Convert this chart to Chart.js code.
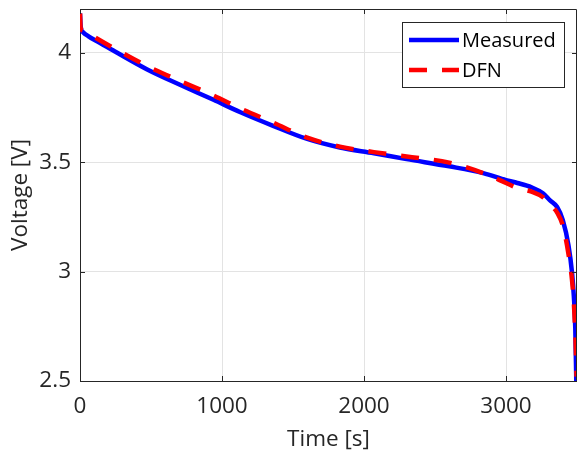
<!DOCTYPE html>
<html>
<head>
<meta charset="utf-8">
<script src="https://cdn.jsdelivr.net/npm/chart.js@4/dist/chart.umd.min.js"></script>
<style>
  html, body { margin: 0; padding: 0; background: #fff; }
  #wrap { width: 577px; height: 458px; }
</style>
</head>
<body>
<div id="wrap"><canvas id="voltChart" width="577" height="458"></canvas></div>
<script>
// measured discharge curve
var timeMeasured = [0, 5, 20, 60, 120, 240, 470, 700, 940, 1130, 1360, 1600, 1830, 2070, 2300, 2600, 2840, 3000, 3080, 3180, 3260, 3310, 3360, 3400, 3440, 3465, 3478, 3488, 3495];
var voltMeasured = [4.18, 4.12, 4.095, 4.075, 4.052, 4.008, 3.925, 3.855, 3.785, 3.728, 3.666, 3.606, 3.567, 3.541, 3.514, 3.481, 3.450, 3.418, 3.405, 3.385, 3.358, 3.325, 3.295, 3.235, 3.12, 2.995, 2.885, 2.74, 2.5];

// DFN model
var timeDFN = [0, 5, 30, 80, 240, 470, 700, 940, 1130, 1360, 1600, 1830, 2070, 2300, 2600, 2840, 3000, 3080, 3180, 3260, 3320, 3360, 3400, 3440, 3465, 3480, 3490, 3497];
var voltDFN = [4.18, 4.11, 4.10, 4.08, 4.02, 3.94, 3.872, 3.805, 3.745, 3.681, 3.612, 3.571, 3.546, 3.526, 3.498, 3.450, 3.405, 3.382, 3.365, 3.34, 3.30, 3.27, 3.21, 3.08, 2.96, 2.83, 2.68, 2.52];

var xTicks = [0, 1000, 2000, 3000];
var yTicks = [2.5, 3, 3.5, 4];

function pairs(xs, ys) {
  var out = [];
  for (var i = 0; i < xs.length; i++) out.push({x: xs[i], y: ys[i]});
  return out;
}

var axisColor = '#262626';
var FONT = "'Open Sans', 'Noto Sans', sans-serif";

// box around the plot + inward ticks (matlab style)
var boxPlugin = {
  id: 'box',
  afterDraw: function(chart) {
    var ctx = chart.ctx, a = chart.chartArea;
    var xs = chart.scales.x, ys = chart.scales.y;
    ctx.save();
    ctx.strokeStyle = axisColor;
    ctx.lineWidth = 1;
    ctx.beginPath();
    ctx.moveTo(a.left + 0.5, a.top + 0.5);
    ctx.lineTo(a.right - 0.5, a.top + 0.5);
    ctx.lineTo(a.right - 0.5, a.bottom - 0.5);
    ctx.stroke();
    var len = 5;
    ctx.beginPath();
    xTicks.forEach(function(v) {
      var px = Math.round(xs.getPixelForValue(v)) + 0.5;
      ctx.moveTo(px, a.bottom); ctx.lineTo(px, a.bottom - len);
      ctx.moveTo(px, a.top); ctx.lineTo(px, a.top + len);
    });
    yTicks.forEach(function(v) {
      var py = Math.round(ys.getPixelForValue(v)) + 0.5;
      ctx.moveTo(a.left, py); ctx.lineTo(a.left + len, py);
      ctx.moveTo(a.right, py); ctx.lineTo(a.right - len, py);
    });
    ctx.stroke();

    // legend
    var bx = 402.5, by = 22.5, bw = 162, bh = 65;
    ctx.fillStyle = '#fff';
    ctx.fillRect(bx, by, bw, bh);
    ctx.strokeRect(bx, by, bw, bh);
    ctx.font = "20px " + FONT;
    ctx.textBaseline = 'middle';
    ctx.textAlign = 'left';
    var order = [1, 0];
    order.forEach(function(di, row) {
      var ds = chart.data.datasets[di];
      var yy = 40 + row * 30;
      ctx.save();
      ctx.strokeStyle = ds.borderColor;
      ctx.lineWidth = ds.borderWidth;
      ctx.setLineDash(ds.borderDash || []);
      ctx.beginPath();
      ctx.moveTo(409, yy); ctx.lineTo(459, yy);
      ctx.stroke();
      ctx.restore();
      ctx.fillStyle = '#000';
      ctx.fillText(ds.label, 462, yy + 1);
    });
    ctx.restore();
  }
};

function fixedTicks(list) {
  return function(s) {
    s.ticks = list.map(function(v) { return {value: v}; });
  };
}

var ctx = document.getElementById('voltChart').getContext('2d');
var chart = new Chart(ctx, {
  type: 'line',
  data: {
    datasets: [
      {
        label: 'DFN',
        data: pairs(timeDFN, voltDFN),
        borderColor: '#ff0000',
        borderWidth: 4.5,
        borderDash: [18, 15],
        pointRadius: 0,
        cubicInterpolationMode: 'monotone',
        fill: false
      },
      {
        label: 'Measured',
        data: pairs(timeMeasured, voltMeasured),
        borderColor: '#0000ff',
        borderWidth: 4.5,
        pointRadius: 0,
        cubicInterpolationMode: 'monotone',
        fill: false
      }
    ]
  },
  options: {
    responsive: false,
    animation: false,
    layout: { padding: { top: 9, right: 0, bottom: 0, left: 0 } },
    plugins: { legend: { display: false }, tooltip: { enabled: false } },
    scales: {
      x: {
        type: 'linear',
        min: 0,
        max: 3500,
        afterBuildTicks: fixedTicks(xTicks),
        afterFit: function(s) { s.height = 77; s.paddingLeft = 0; s.paddingRight = 0; },
        ticks: {
          color: axisColor,
          padding: 12,
          maxRotation: 0,
          autoSkip: false,
          callback: function(v) { return String(v); },
          font: { family: FONT, size: 22.5 }
        },
        grid: { color: '#e3e3e3', drawTicks: false },
        border: { color: axisColor },
        title: {
          display: true,
          text: 'Time [s]',
          color: axisColor,
          font: { family: FONT, size: 22.5 },
          padding: { top: 0, bottom: 4.5 }
        }
      },
      y: {
        type: 'linear',
        min: 2.5,
        max: 4.2,
        afterBuildTicks: fixedTicks(yTicks),
        afterFit: function(s) { s.width = 80; s.paddingTop = 0; s.paddingBottom = 0; },
        ticks: {
          color: axisColor,
          padding: 9,
          autoSkip: false,
          callback: function(v) { return String(v); },
          font: { family: FONT, size: 22.5 }
        },
        grid: { color: '#e3e3e3', drawTicks: false },
        border: { color: axisColor },
        title: {
          display: true,
          text: 'Voltage [V]',
          color: axisColor,
          font: { family: FONT, size: 22.5 },
          padding: { top: 7.5, bottom: 0 }
        }
      }
    }
  },
  plugins: [boxPlugin]
});
</script>
</body>
</html>
